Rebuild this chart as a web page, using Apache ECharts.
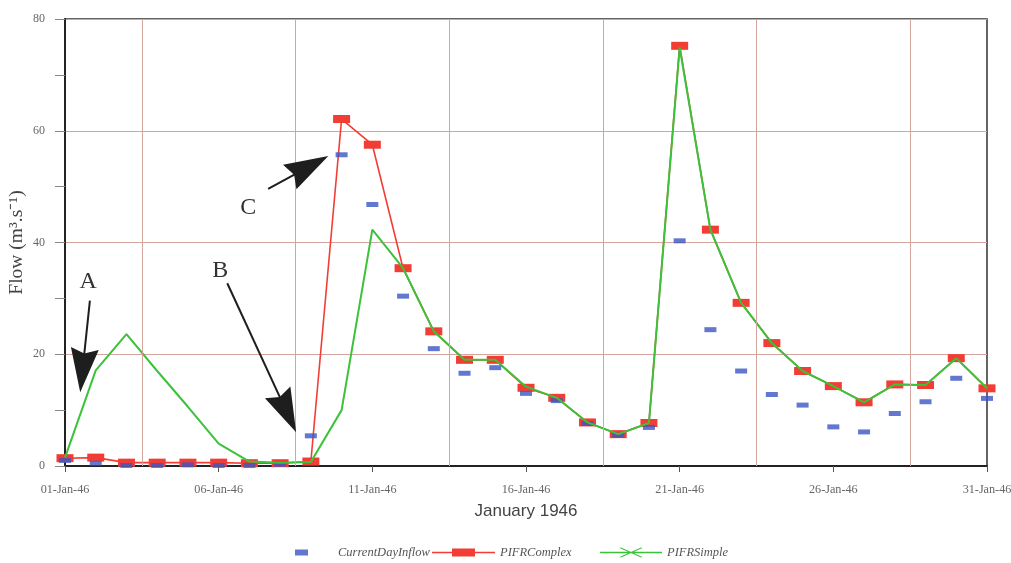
<!DOCTYPE html>
<html>
<head>
<meta charset="utf-8">
<script src="https://cdn.jsdelivr.net/npm/echarts@6/dist/echarts.min.js"></script>
<style>
  html, body { margin: 0; padding: 0; background: #ffffff; }
  #chart { width: 1011px; height: 563px; }
</style>
</head>
<body>
<div id="chart"></div>
<script>
// Daily flows for January 1946 (m3/s)
const dayNumbers = [1,2,3,4,5,6,7,8,9,10,11,12,13,14,15,16,17,18,19,20,21,22,23,24,25,26,27,28,29,30,31];
const currentDayInflow = [1.0,0.5,0.1,0.1,0.2,0.1,0.1,0.3,5.4,55.7,46.8,30.4,21.0,16.6,17.6,13.0,11.7,7.6,5.5,6.9,40.3,24.4,17.0,12.8,10.9,7.0,6.1,9.4,11.5,15.7,12.1];
const pifrComplex = [1.4,1.5,0.6,0.6,0.6,0.6,0.5,0.5,0.8,62.1,57.5,35.4,24.1,19.0,19.0,14.0,12.2,7.8,5.7,7.7,75.2,42.3,29.2,22.0,17.0,14.3,11.4,14.6,14.5,19.3,13.9];
const pifrSimple = [1.5,17.1,23.6,17.0,10.6,4.0,0.8,0.6,0.7,10.0,42.3,35.4,24.1,19.0,19.0,14.2,12.2,7.8,5.7,7.7,74.9,42.3,29.2,22.0,17.0,14.3,11.4,14.6,14.5,19.3,13.9];

// x axis runs on day offsets (0 = 1 Jan); labels every 5 days, grid breaks halfway between
const xLabelStep = 5;
const dayGridBreaks = [2.5, 7.5, 12.5, 17.5, 22.5, 27.5];
const yMax = 80;
const yStep = 20;

// annotation arrows [tail, head centre] in (day offset, flow) and their letters
const arrowA = [[0.81, 29.6], [0.57, 17.1]];
const arrowB = [[5.28, 32.7], [7.22, 9.6]];
const arrowC = [[6.61, 49.6], [7.94, 53.6]];
const letters = [['A', 0.75, 32.9], ['B', 5.05, 35.0], ['C', 5.96, 46.3]];

const pad = n => (n < 10 ? '0' + n : '' + n);
const pairs = vals => vals.map((v, i) => [dayNumbers[i] - 1, v]);

const serif = 'Liberation Serif';
const gridColor = '#d3a59c';

// legend glyphs: thin line with a marker in the middle
const complexIcon = 'path://M0,4.25H63V5.75H0Z M20,1H43V9H20Z';
const simpleIcon = 'path://M0,4.25H62V5.75H0Z M19.5,0.5L21,0L42.5,9.5L41,10Z M41,0L42.5,0.5L21,10L19.5,9.5Z';
const arrowHead = 'path://M14,0L28,44L14,39L0,44Z';

const chart = echarts.init(document.getElementById('chart'), null, { renderer: 'canvas' });

const legendText = { fontFamily: serif, fontStyle: 'italic', fontSize: 12.5, color: '#555' };

chart.setOption({
  animation: false,
  backgroundColor: '#ffffff',
  grid: {
    left: 65, right: 24, top: 19, bottom: 97,
    outerBoundsMode: 'none',
    containLabel: false,
    show: true, borderColor: '#333', borderWidth: 1.5, backgroundColor: '#ffffff'
  },
  xAxis: {
    type: 'value',
    min: 0, max: dayNumbers.length - 1, interval: xLabelStep,
    name: 'January 1946',
    nameLocation: 'middle', nameGap: 37, nameMoveOverlap: false,
    nameTextStyle: { fontFamily: 'Liberation Sans', fontSize: 17, color: '#444' },
    axisLine: { lineStyle: { color: '#222', width: 2 } },
    axisTick: { show: true, length: 6, lineStyle: { color: '#555' } },
    axisLabel: {
      margin: 18, fontFamily: serif, fontSize: 12.2, color: '#666',
      formatter: v => pad(Math.round(v) + 1) + '-Jan-46'
    },
    splitLine: { show: false }
  },
  yAxis: {
    type: 'value',
    min: 0, max: yMax, interval: yStep,
    name: 'Flow (m³.s⁻¹)',
    nameLocation: 'middle', nameGap: 38, nameRotate: 90, nameMoveOverlap: false,
    nameTextStyle: { fontFamily: serif, fontSize: 19.5, color: '#444' },
    axisLine: { show: true, lineStyle: { color: '#222', width: 2 } },
    axisTick: { show: true, length: 10, lineStyle: { color: '#888' } },
    minorTick: { show: true, splitNumber: 2, length: 10, lineStyle: { color: '#888' } },
    axisLabel: { margin: 20, fontFamily: serif, fontSize: 12, color: '#666' },
    splitLine: { show: true, lineStyle: { color: gridColor, width: 1 } }
  },
  legend: [
    {
      data: ['CurrentDayInflow'], left: 290, top: 541,
      itemWidth: 13, itemHeight: 6, icon: 'rect',
      textStyle: Object.assign({ padding: [0, 0, 0, 25] }, legendText)
    },
    {
      data: [{ name: 'PIFRComplex', icon: complexIcon }], left: 427, top: 541,
      itemWidth: 63, itemHeight: 8,
      textStyle: legendText
    },
    {
      data: [{ name: 'PIFRSimple', icon: simpleIcon }], left: 595, top: 541,
      itemWidth: 62, itemHeight: 10,
      textStyle: legendText
    }
  ],
  series: [
    {
      name: 'CurrentDayInflow',
      type: 'scatter',
      data: pairs(currentDayInflow),
      symbol: 'rect', symbolSize: [12, 5],
      itemStyle: { color: '#3b55c4' },
      z: 3,
      markLine: {
        silent: true, symbol: ['none', 'none'], animation: false,
        label: { show: false },
        lineStyle: { color: gridColor, type: 'solid', width: 1, opacity: 1 },
        data: dayGridBreaks.map(d => ({ xAxis: d }))
      }
    },
    {
      name: 'PIFRComplex',
      type: 'line',
      data: pairs(pifrComplex),
      symbol: 'rect', symbolSize: [17, 8],
      itemStyle: { color: '#f23d34' },
      lineStyle: { color: '#f23d34', width: 1.6 },
      z: 2
    },
    {
      name: 'PIFRSimple',
      type: 'line',
      data: pairs(pifrSimple),
      symbol: 'none',
      itemStyle: { color: '#3cc23a' },
      lineStyle: { color: '#3cc23a', width: 2 },
      z: 4,
      markLine: {
        silent: true, animation: false,
        symbol: ['none', arrowHead], symbolSize: [28, 44],
        label: { show: false },
        lineStyle: { color: '#1e1e1e', type: 'solid', width: 2 },
        itemStyle: { color: '#1e1e1e' },
        data: [arrowA, arrowB, arrowC].map(a => [{ coord: a[0] }, { coord: a[1] }])
      },
      markPoint: {
        silent: true, animation: false,
        symbol: 'circle', symbolSize: 1,
        itemStyle: { color: 'rgba(0,0,0,0)' },
        label: {
          show: true, position: 'inside',
          fontFamily: serif, fontSize: 24, color: '#333',
          formatter: p => p.name
        },
        data: letters.map(l => ({ name: l[0], coord: [l[1], l[2]] }))
      }
    }
  ]
});
</script>
</body>
</html>
